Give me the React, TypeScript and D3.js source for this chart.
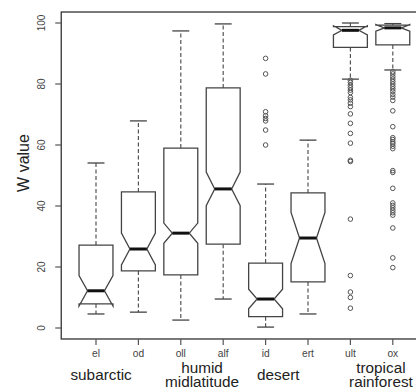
import React from "react";
import * as d3 from "d3";

const categories = ["el", "od", "oll", "alf", "id", "ert", "ult", "ox"];
const whiskerLow = [4.6, 5.2, 2.6, 9.5, 0.3, 4.6, 81.6, 84.6];
const q1 = [7.9, 18.7, 17.4, 27.5, 3.7, 15.1, 92.0, 92.8];
const median = [12.2, 25.9, 31.1, 45.6, 9.5, 29.5, 97.6, 98.4];
const q3 = [27.2, 44.6, 59.0, 78.7, 21.3, 44.3, 98.8, 99.3];
const whiskerHigh = [54.1, 67.9, 97.4, 99.7, 47.2, 61.6, 100.0, 99.8];
const notchHalf = [5.0, 5.2, 3.3, 5.5, 3.2, 8.4, 1.5, 1.1];
const outliers: number[][] = [
  [],
  [],
  [],
  [],
  [88.4, 83.3, 70.9, 69.6, 68.7, 67.9, 64.9, 60.0],
  [],
  [81.2, 80.5, 79.6, 78.8, 78.0, 77.2, 75.6, 74.8, 73.7, 72.6, 70.2, 67.1, 63.8, 60.6, 55.0, 54.6, 35.7, 17.2, 11.8, 10.0, 6.5],
  [84.0, 83.3, 82.4, 81.6, 80.8, 80.0, 79.2, 78.4, 77.6, 76.6, 75.7, 74.6, 71.2, 66.0, 62.4, 61.8, 61.0, 60.4, 59.6, 58.8, 51.6, 51.0, 45.8, 41.0, 40.2, 39.4, 38.6, 37.8, 37.0, 32.8, 23.0, 19.8],
];
const yTicks = [0, 20, 40, 60, 80, 100];
const groupNames = [["subarctic"], ["humid", "midlatitude"], ["desert"], ["tropical", "rainforest"]];
const groupPos = [1.12, 3.5, 5.3, 7.72];

const W = 416;
const H = 388;
const font = "'Liberation Sans', Arial, sans-serif";

export default function App() {
  const x = d3.scaleLinear().domain([1, 8]).range([96, 392.8]);
  const y = d3.scaleLinear().domain([0, 100]).range([328, 23]);
  const unit = x(2) - x(1);
  const wid = unit * 0.4;
  const left = x(0.18);
  const right = x(8.82);
  const top = y(103.6);
  const bottom = y(-3.6);
  const boxColor = "#444";

  return (
    <div style={{ position: "fixed", left: 0, top: 0, width: W, height: H, background: "#fff" }}>
      <svg width={W} height={H} style={{ display: "block" }} fontFamily={font}>
        <rect x={left} y={top} width={right - left} height={bottom - top} fill="none" stroke="#333" strokeWidth={1.3} />
        {yTicks.map((t) => (
          <g key={t}>
            <line x1={left - 6} x2={left} y1={y(t)} y2={y(t)} stroke="#555" strokeWidth={1.2} />
            <text
              transform={`translate(${left - 16},${y(t)}) rotate(-90)`}
              textAnchor="middle"
              fontSize={10}
              fill="#444"
            >
              {t}
            </text>
          </g>
        ))}
        <text transform={`translate(29,163) rotate(-90)`} textAnchor="middle" fontSize={16} fill="#222">
          W value
        </text>
        {categories.map((c, i) => (
          <g key={c}>
            <line x1={x(i + 1)} x2={x(i + 1)} y1={bottom} y2={bottom + 6} stroke="#555" strokeWidth={1.2} />
            <text x={x(i + 1)} y={356.5} textAnchor="middle" fontSize={10.2} fill="#444">
              {c}
            </text>
          </g>
        ))}
        {groupNames.map((lines, gi) => (
          <text key={gi} x={x(groupPos[gi])} textAnchor="middle" fontSize={15.3} fill="#222">
            {lines.length === 1 ? (
              <tspan x={x(groupPos[gi])} y={380}>{lines[0]}</tspan>
            ) : (
              lines.map((l, li) => (
                <tspan key={li} x={x(groupPos[gi])} y={372.5 + li * 14}>
                  {l}
                </tspan>
              ))
            )}
          </text>
        ))}
        {categories.map((c, i) => {
          const cx = x(i + 1);
          const m = median[i];
          const n = notchHalf[i];
          const pts: [number, number][] = [
            [cx - wid, y(q1[i])],
            [cx + wid, y(q1[i])],
            [cx + wid, y(m - n)],
            [cx + wid * 0.5, y(m)],
            [cx + wid, y(m + n)],
            [cx + wid, y(q3[i])],
            [cx - wid, y(q3[i])],
            [cx - wid, y(m + n)],
            [cx - wid * 0.5, y(m)],
            [cx - wid, y(m - n)],
          ];
          const path = d3.line()(pts) + "Z";
          const cap = wid * 0.5;
          return (
            <g key={c}>
              <line x1={cx} x2={cx} y1={y(q1[i])} y2={y(whiskerLow[i])} stroke="#555" strokeWidth={1.2} strokeDasharray="4,2.5" />
              <line x1={cx} x2={cx} y1={y(q3[i])} y2={y(whiskerHigh[i])} stroke="#555" strokeWidth={1.2} strokeDasharray="4,2.5" />
              <line x1={cx - cap} x2={cx + cap} y1={y(whiskerLow[i])} y2={y(whiskerLow[i])} stroke="#444" strokeWidth={1.3} />
              <line x1={cx - cap} x2={cx + cap} y1={y(whiskerHigh[i])} y2={y(whiskerHigh[i])} stroke="#444" strokeWidth={1.3} />
              <path d={path} fill="#fff" stroke={boxColor} strokeWidth={1.3} strokeLinejoin="miter" />
              <line x1={cx - wid * 0.5} x2={cx + wid * 0.5} y1={y(m)} y2={y(m)} stroke="#111" strokeWidth={3} />
              {outliers[i].map((v, k) => (
                <circle key={k} cx={cx} cy={y(v)} r={2.3} fill="none" stroke="#555" strokeWidth={1} />
              ))}
            </g>
          );
        })}
      </svg>
    </div>
  );
}
